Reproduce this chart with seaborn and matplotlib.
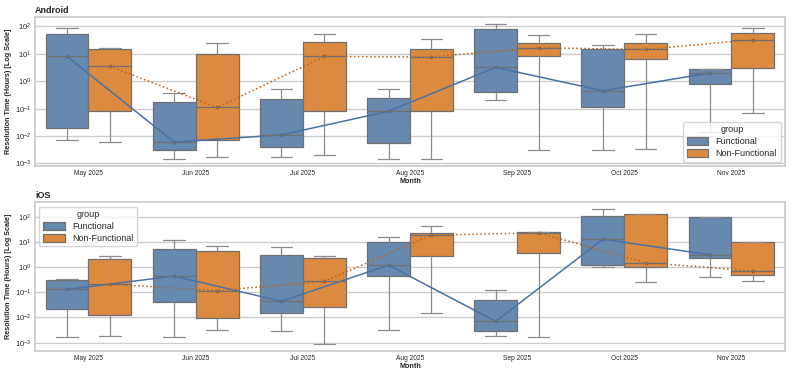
import numpy as np
import pandas as pd
import matplotlib
matplotlib.use("Agg")
import matplotlib.pyplot as plt
import seaborn as sns

sns.set_theme(style="whitegrid")
plt.rcParams["font.family"] = ["Liberation Sans", "DejaVu Sans"]

months = ["May 2025", "Jun 2025", "Jul 2025", "Aug 2025", "Sep 2025", "Oct 2025", "Nov 2025"]
groups = ["Functional", "Non-Functional"]

# five-number summaries per month: (min, q1, median, q3, max), in hours
android_functional = [
    (0.0074, 0.0195, 8.0, 54, 85),
    (0.0014, 0.003, 0.006, 0.17, 0.37),
    (0.0017, 0.004, 0.011, 0.22, 0.52),
    (0.0014, 0.0057, 0.08, 0.25, 0.52),
    (0.21, 0.4, 3.2, 80, 125),
    (0.0031, 0.115, 0.45, 15, 21),
    (0.014, 0.81, 2.0, 2.7, 2.7),
]
android_non_functional = [
    (0.006, 0.08, 3.5, 15, 17),
    (0.0017, 0.007, 0.11, 10, 24),
    (0.002, 0.079, 8.0, 27, 54),
    (0.0014, 0.08, 7.8, 15, 36),
    (0.0031, 8.2, 16.6, 24.6, 47),
    (0.0035, 6.6, 14.5, 25, 52),
    (0.068, 3.1, 33, 60, 85),
]
ios_functional = [
    (0.0017, 0.022, 0.13, 0.31, 0.35),
    (0.0017, 0.04, 0.44, 5.2, 11.5),
    (0.0028, 0.015, 0.044, 3.1, 6.4),
    (0.0032, 0.44, 1.2, 10, 16.5),
    (0.0019, 0.0028, 0.007, 0.048, 0.12),
    (1.02, 1.25, 12.9, 103, 209),
    (0.39, 2.3, 3.1, 94, 94),
]
ios_non_functional = [
    (0.0019, 0.012, 0.21, 2.1, 2.9),
    (0.0032, 0.0098, 0.117, 4.3, 7.0),
    (0.00085, 0.026, 0.27, 2.3, 2.9),
    (0.015, 2.8, 18.6, 23, 44),
    (0.0017, 3.8, 23, 24.6, 26),
    (0.26, 1.02, 1.5, 128, 128),
    (0.27, 0.47, 0.71, 10, 10),
]

platforms = {
    "Android": (android_functional, android_non_functional),
    "iOS": (ios_functional, ios_non_functional),
}

box_colors = ["#6889ae", "#dc8a3f"]
line_colors = ["#4a72a6", "#b8621b"]


def build_frame(func, nonfunc):
    rows = []
    for group, series in zip(groups, (func, nonfunc)):
        for month, summary in zip(months, series):
            for v in summary:
                rows.append({"Month": month, "group": group, "hours": v})
    return pd.DataFrame(rows)


fig, axes = plt.subplots(2, 1, figsize=(7.93, 3.78), dpi=100)
fig.subplots_adjust(left=0.044, right=0.99, top=0.955, bottom=0.071, hspace=0.24)

for ax, (name, (func, nonfunc)), legend_loc in zip(axes, platforms.items(), ["lower right", "upper left"]):
    df = build_frame(func, nonfunc)
    sns.boxplot(data=df, x="Month", y="hours", hue="group", order=months, hue_order=groups,
                palette=box_colors, saturation=1, whis=(0, 100), showfliers=False,
                log_scale=True, linecolor="#707070", linewidth=0.9,
                whiskerprops=dict(color="#8c8c8c"), capprops=dict(color="#8c8c8c"), ax=ax)
    sns.pointplot(data=df, x="Month", y="hours", hue="group", order=months, hue_order=groups,
                  estimator="median", errorbar=None, dodge=0.4, palette=line_colors,
                  linestyles=["-", ":"], markers="o", markersize=2, linewidth=1.1,
                  legend=False, ax=ax)

    ax.set_title(name, loc="left", fontweight="bold", fontsize=6.5, pad=3)
    ax.set_xlabel("Month", fontweight="bold", fontsize=5.2, labelpad=1)
    ax.set_ylabel("Resolution Time (Hours) [Log Scale]", fontweight="bold", fontsize=5.2, labelpad=2)
    ax.tick_params(axis="x", labelsize=4.8, length=0, pad=2.5)
    ax.tick_params(axis="y", labelsize=5.5, length=0, pad=2.5)
    ax.yaxis.set_minor_locator(matplotlib.ticker.NullLocator())
    ax.legend(title="group", loc=legend_loc, fontsize=6.5, title_fontsize=6.5,
              handlelength=2.4, handleheight=1.0, borderpad=0.4, labelspacing=0.3)

fig.savefig("out.png", dpi=100)
